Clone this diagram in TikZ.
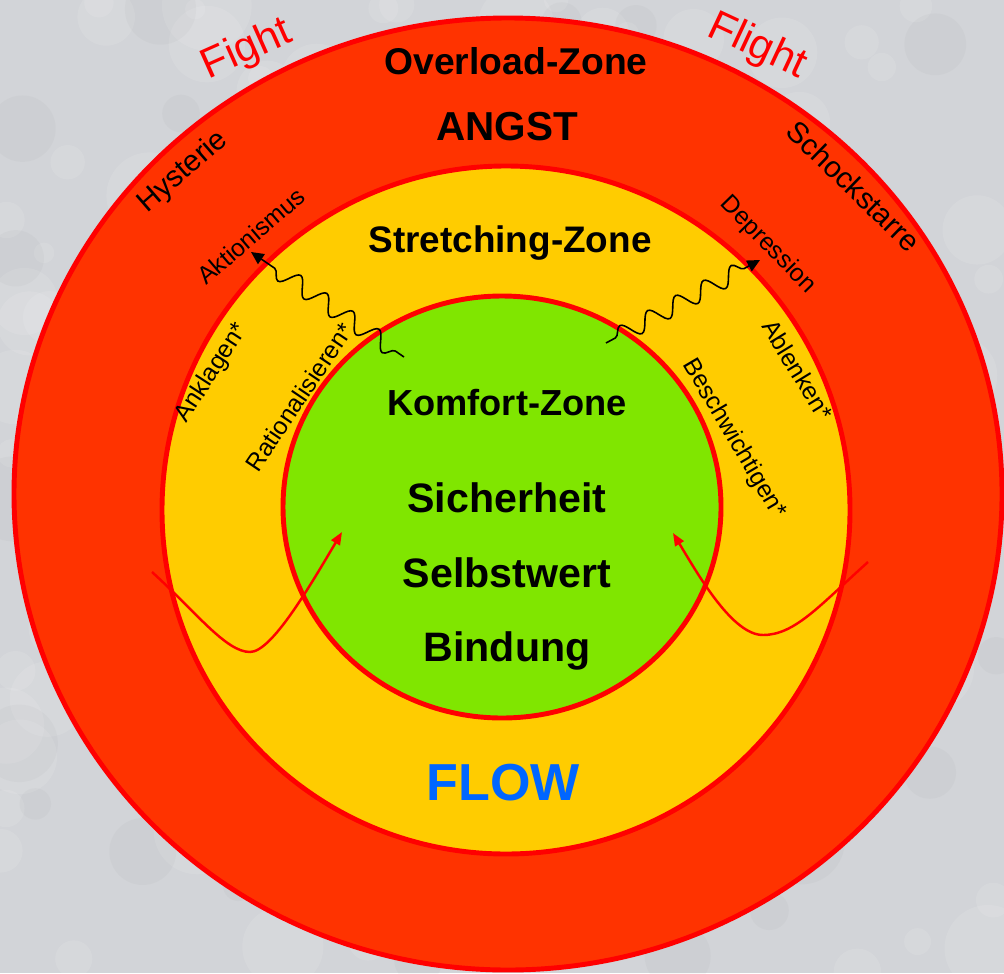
\documentclass[tikz,border=0pt]{standalone}
\usepackage{fontspec}
\setmainfont{Liberation Sans}
\usetikzlibrary{arrows.meta,decorations.pathmorphing}

\definecolor{stone}{RGB}{210,212,216}
\definecolor{overload}{RGB}{255,51,0}
\definecolor{rim}{RGB}{255,0,0}
\definecolor{stretch}{RGB}{255,204,0}
\definecolor{comfort}{RGB}{128,230,0}
\definecolor{flowblue}{RGB}{0,102,255}

\tikzset{
  zone/.style={draw=rim, line width=1.4pt},
  zonetitle/.style={anchor=base, font=\bfseries\fontsize{10.5}{12}\selectfont},
  need/.style={anchor=base, font=\bfseries\fontsize{11.7}{13}\selectfont},
  reaction/.style={font=\fontsize{12}{14}\selectfont, text=rim},
  outerlabel/.style={font=\fontsize{8.4}{10}\selectfont},
  innerlabel/.style={font=\fontsize{7}{8.5}\selectfont},
  wave/.style={decorate, decoration={snake, amplitude=2.5pt, segment length=9pt, pre length=3pt, post length=4pt},
    -{Triangle[length=3.6pt,width=3.4pt]}, line width=0.45pt},
  backarrow/.style={draw=rim, line width=0.7pt, -{Triangle[length=3.6pt,width=2.8pt]}}
}

\begin{document}
\begin{tikzpicture}[x=0.01cm, y=-0.01cm]
  \useasboundingbox (0,0) rectangle (1004,973);
  % stone background
  \fill[stone] (0,0) rectangle (1004,973);
  \pgfmathsetseed{11}
  \foreach \i in {1,...,160}{
    \pgfmathsetmacro\px{rnd*1004}
    \pgfmathsetmacro\py{rnd*973}
    \pgfmathsetmacro\rr{10+rnd*35}
    \fill[white, opacity=0.1] (\px,\py) circle [radius=\rr];
  }
  \foreach \i in {1,...,50}{
    \pgfmathsetmacro\px{rnd*1004}
    \pgfmathsetmacro\py{rnd*973}
    \pgfmathsetmacro\rr{15+rnd*30}
    \fill[gray, opacity=0.05] (\px,\py) circle [radius=\rr];
  }

  % the three zones
  \filldraw[zone, fill=overload] (508,494) ellipse [x radius=494, y radius=476];
  \filldraw[zone, fill=stretch] (506,510) circle [radius=344];
  \filldraw[zone, fill=comfort] (502,507) ellipse [x radius=219, y radius=211];

  % zone titles
  \node[zonetitle, font=\bfseries\fontsize{10.6}{12}\selectfont] (overload) at (516,75) {Overload-Zone};
  \node[zonetitle, font=\bfseries\fontsize{11.5}{13}\selectfont] (angst) at (507,140) {ANGST};
  \node[zonetitle] (stretching) at (510,252) {Stretching-Zone};
  \node[zonetitle, font=\bfseries\fontsize{10.3}{12}\selectfont] (komfort) at (507,415) {Komfort-Zone};
  \node[need] (sicherheit) at (507,512) {Sicherheit};
  \node[need] (selbstwert) at (507,587) {Selbstwert};
  \node[need] (bindung) at (507,661) {Bindung};
  \node[anchor=base, text=flowblue, font=\bfseries\fontsize{14.8}{16}\selectfont] (flow) at (503,800) {FLOW};

  % reactions round the rims
  \node[reaction, rotate=24] (fight) at (247,50) {Fight};
  \node[reaction, rotate=-25] (flight) at (757,47) {Flight};
  \node[outerlabel, rotate=41] (hysterie) at (183,172) {Hysterie};
  \node[outerlabel, rotate=-44] (schock) at (854,186) {Schockstarre};
  \node[innerlabel, rotate=40.5] (aktion) at (251,236) {Aktionismus};
  \node[innerlabel, rotate=-45.6] (depression) at (768,245) {Depression};
  \node[innerlabel, rotate=57] (anklagen) at (212,373) {Anklagen*};
  \node[innerlabel, rotate=56] (rational) at (299,397) {Rationalisieren*};
  \node[innerlabel, rotate=-58.6] (ablenken) at (798,370) {Ablenken*};
  \node[innerlabel, rotate=-59.5] (beschw) at (734,439) {Beschwichtigen*};

  % escape waves out of the comfort zone
  \coordinate (waveL) at (404,357);
  \coordinate (tipL) at (251,252);
  \coordinate (waveR) at (606,343);
  \coordinate (tipR) at (760,260);
  \draw[wave] (waveL) -- (tipL);
  \draw[wave] (waveR) -- (tipR);

  % ways back in
  \coordinate (backL) at (152,572);
  \coordinate (lowL) at (250,652);
  \coordinate (inL) at (342,532);
  \coordinate (backR) at (868,562);
  \coordinate (lowR) at (763,635);
  \coordinate (inR) at (673,533);
  \draw[backarrow] (backL) .. controls (196,612) and (226,652) .. (lowL)
    .. controls (272,652) and (311,584) .. (inL);
  \draw[backarrow] (backR) .. controls (820,605) and (795,635) .. (lowR)
    .. controls (733,635) and (700,578) .. (inR);
\end{tikzpicture}
\end{document}
